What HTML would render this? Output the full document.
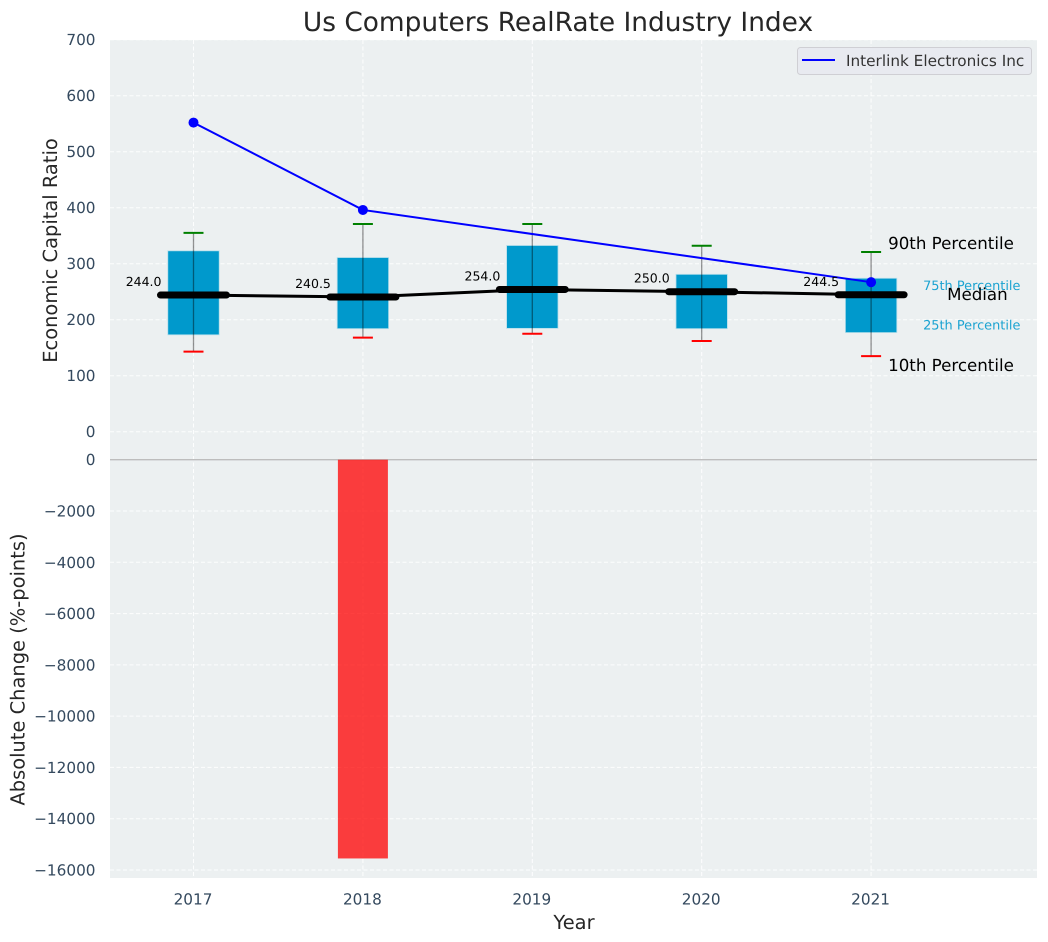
<!DOCTYPE html>
<html>
<head>
<meta charset="utf-8">
<style>
html,body{margin:0;padding:0;background:#fff;}
svg{display:block;font-family:"DejaVu Sans","Liberation Sans",sans-serif;text-rendering:geometricPrecision;}
</style>
</head>
<body>
<svg id="chart" width="1048" height="942" viewBox="0 0 1048 942" xmlns="http://www.w3.org/2000/svg">
  <rect x="0" y="0" width="1048" height="942" fill="#ffffff"/>
  <rect x="110" y="40" width="927" height="420" fill="#ecf0f1"/>
  <rect x="110" y="459" width="927" height="419" fill="#ecf0f1"/>
  <g id="grid"></g>
  <g id="bars"></g>
  <g id="boxes"></g>
  <g id="series"></g>
  <g id="labels"></g>
  <g id="ticks"></g>
  <text x="558" y="31" text-anchor="middle" font-size="26.4" fill="#262626">Us Computers RealRate Industry Index</text>
  <text transform="translate(57,250.5) rotate(-90)" text-anchor="middle" font-size="19.44" fill="#262626">Economic Capital Ratio</text>
  <text transform="translate(24.5,669.5) rotate(-90)" text-anchor="middle" font-size="19.44" fill="#262626">Absolute Change (%-points)</text>
  <text x="574" y="929" text-anchor="middle" font-size="19.44" fill="#262626">Year</text>
  <g>
    <rect x="797.5" y="47.5" width="234" height="27" rx="3" fill="#e8eaf0" stroke="#cfcfd4" stroke-width="1"/>
    <line x1="802" y1="60" x2="835" y2="60" stroke="#0000ff" stroke-width="2"/>
    <text x="846" y="66" font-size="15.28" fill="#333333">Interlink Electronics Inc</text>
  </g>
</svg>
<script>
const categories = ["2017", "2018", "2019", "2020", "2021"];
const p90 = [355, 371, 371, 332, 321];
const q75 = [323, 311, 332.5, 281, 274];
const medians = [244, 240.5, 254, 250, 244.5];
const q25 = [173, 184, 184.5, 184, 177];
const p10 = [143, 168, 175, 162, 135];
const companyRatio = [552, 396, null, null, 267];
const absoluteChange = [null, -15550, null, null, null];
const ratioTicks = [0, 100, 200, 300, 400, 500, 600, 700];
const changeTicks = [0, -2000, -4000, -6000, -8000, -10000, -12000, -14000, -16000];
const medianLabels = ["244.0", "240.5", "254.0", "250.0", "244.5"];

const NS = "http://www.w3.org/2000/svg";
const xScale = i => 193.5 + i * 169.4;
const yRatio = v => 431.7 - v * 0.56;
const yChange = v => 459.7 - v * (410.3 / 16000);

function make(parent, tag, props, text) {
  const el = document.createElementNS(NS, tag);
  for (const k in props) el.setAttribute(k, props[k]);
  if (text !== undefined) el.textContent = text;
  parent.appendChild(el);
  return el;
}

const grid = document.getElementById("grid");
const bars = document.getElementById("bars");
const boxes = document.getElementById("boxes");
const series = document.getElementById("series");
const labels = document.getElementById("labels");
const ticks = document.getElementById("ticks");
const gridStyle = {stroke: "#ffffff", "stroke-width": 1, "stroke-dasharray": "4 2.5", "stroke-opacity": 0.9};

ratioTicks.forEach(v => {
  const g = make(grid, "line", Object.assign({x1: 110, x2: 1037, y1: yRatio(v), y2: yRatio(v)}, gridStyle));
  
  
  const t = make(ticks, "text", {x: 95.5, y: yRatio(v) + 5.5, "text-anchor": "end", "font-size": 15.28, fill: "#34495e"}, String(v));
  
  
});

changeTicks.forEach(v => {
  if (v !== 0) {
    const g = make(grid, "line", Object.assign({x1: 110, x2: 1037, y1: yChange(v), y2: yChange(v)}, gridStyle));
    
    
  }
  const t = make(ticks, "text", {x: 95.5, y: yChange(v) + 5.5, "text-anchor": "end", "font-size": 15.28, fill: "#34495e"}, String(v).replace("-", "\u2212"));
  
  
});

categories.forEach((c, i) => {
  const x = xScale(i);
  const g = make(grid, "line", Object.assign({x1: x, x2: x, y1: 40, y2: 878}, gridStyle));
  
  
  const t = make(ticks, "text", {x: x - 0.5, y: 904.5, "text-anchor": "middle", "font-size": 15.28, fill: "#34495e"}, c);
  
  
});

const zeroLine = make(grid, "line", {x1: 110, x2: 1037, y1: yChange(0), y2: yChange(0), stroke: "#bdbdbd", "stroke-width": 1.3});



absoluteChange.forEach((v, i) => {
  if (v === null) return;
  const bar = make(bars, "rect", {x: xScale(i) - 25, y: yChange(0), width: 50, height: yChange(v) - yChange(0), fill: "#ff0000", "fill-opacity": 0.75});
  
  
});

categories.forEach((c, i) => {
  const x = xScale(i);
  const box = make(boxes, "rect", {x: x - 25.7, y: yRatio(q75[i]), width: 51.4, height: yRatio(q25[i]) - yRatio(q75[i]), fill: "#0099cc", stroke: "#b5deea", "stroke-width": 0.8});
  
  
  const whisker = make(boxes, "line", {x1: x, x2: x, y1: yRatio(p90[i]), y2: yRatio(p10[i]), stroke: "#000000", "stroke-opacity": 0.42, "stroke-width": 1.3});
  
  
  const capHigh = make(boxes, "line", {x1: x - 10, x2: x + 10, y1: yRatio(p90[i]), y2: yRatio(p90[i]), stroke: "#008000", "stroke-width": 2});
  
  
  const capLow = make(boxes, "line", {x1: x - 10, x2: x + 10, y1: yRatio(p10[i]), y2: yRatio(p10[i]), stroke: "#ff0000", "stroke-width": 2});
  
  
});

const medianPath = make(series, "polyline", {points: medians.map((v, i) => xScale(i) + "," + yRatio(v)).join(" "), fill: "none", stroke: "#000000", "stroke-width": 3});



medians.forEach((v, i) => {
  const x = xScale(i);
  const m = make(series, "line", {x1: x - 33, x2: x + 33, y1: yRatio(v), y2: yRatio(v), stroke: "#000000", "stroke-width": 7, "stroke-linecap": "round"});
  
  
  const t = make(labels, "text", {x: x - 32, y: yRatio(v) - 9, "text-anchor": "end", "font-size": 12.5, fill: "#000000"}, medianLabels[i]);
  
  
});

const companyPoints = companyRatio.map((v, i) => v === null ? null : [xScale(i), yRatio(v)]).filter(p => p);
const companyLine = make(series, "polyline", {points: companyPoints.map(p => p.join(",")).join(" "), fill: "none", stroke: "#0000ff", "stroke-width": 2});



companyPoints.forEach(p => {
  const dot = make(series, "circle", {cx: p[0], cy: p[1], r: 5, fill: "#0000ff"});
  
  
});

const last = categories.length - 1;
const lastX = xScale(last);

const label90 = make(labels, "text", {x: lastX + 17, y: yRatio(p90[last]) - 3, "font-size": 16.67, fill: "#000000"}, "90th Percentile");



const label75 = make(labels, "text", {x: lastX + 52, y: yRatio(q75[last]) + 11.5, "font-size": 12.9, fill: "#1ba3d1"}, "75th Percentile");



const labelMedian = make(labels, "text", {x: lastX + 76, y: yRatio(medians[last]) + 5, "font-size": 16.67, fill: "#000000"}, "Median");



const label25 = make(labels, "text", {x: lastX + 52, y: yRatio(q25[last]) - 3, "font-size": 12.9, fill: "#1ba3d1"}, "25th Percentile");



const label10 = make(labels, "text", {x: lastX + 17, y: yRatio(p10[last]) + 15, "font-size": 16.67, fill: "#000000"}, "10th Percentile");


</script>
</body>
</html>
